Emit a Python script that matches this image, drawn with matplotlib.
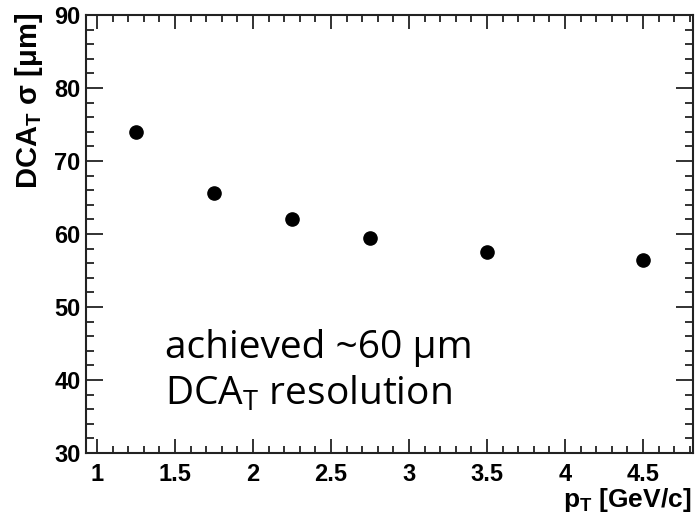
import numpy as np
import matplotlib
matplotlib.use("Agg")
import matplotlib.pyplot as plt
from matplotlib.ticker import MultipleLocator

# values
pt = [1.25, 1.75, 2.25, 2.75, 3.5, 4.5]
sigma = [74.0, 65.6, 62.1, 59.4, 57.6, 56.4]
x_ticks = [1, 1.5, 2, 2.5, 3, 3.5, 4, 4.5]
x_tick_labels = ["1", "1.5", "2", "2.5", "3", "3.5", "4", "4.5"]
y_ticks = [30, 40, 50, 60, 70, 80, 90]

plt.rcParams['font.family'] = ['Liberation Sans', 'DejaVu Sans']
plt.rcParams['mathtext.fontset'] = 'custom'
plt.rcParams['mathtext.rm'] = 'Liberation Sans'
plt.rcParams['mathtext.bf'] = 'Liberation Sans:bold'
plt.rcParams['mathtext.it'] = 'Liberation Sans:italic'

fig = plt.figure(figsize=(6.96, 5.19), dpi=100)
ax = fig.add_axes([86 / 696, 1 - 453 / 519, 607 / 696, 438 / 519])

ax.plot(pt, sigma, 'o', color='black', markersize=9.5)

ax.set_xlim(0.93, 4.82)
ax.set_ylim(30, 90)
ax.set_xticks(x_ticks)
ax.set_xticklabels(x_tick_labels)
ax.set_yticks(y_ticks)
ax.xaxis.set_minor_locator(MultipleLocator(0.1))
ax.yaxis.set_minor_locator(MultipleLocator(2))

ax.tick_params(which='both', direction='in', top=True, right=True, color='#222222', width=1.3)
ax.tick_params(axis='x', which='major', length=10, pad=7, labelsize=17)
ax.tick_params(axis='x', which='minor', length=5)
ax.tick_params(axis='y', which='major', length=12, pad=4, labelsize=17)
ax.tick_params(axis='y', which='minor', length=6)
for lab in ax.get_xticklabels() + ax.get_yticklabels():
    lab.set_fontweight('bold')
for s in ax.spines.values():
    s.set_linewidth(1.5)
    s.set_color('#222222')

fig.text(29 / 696, 1 - 13 / 519, r'$\mathbf{DCA_T}$ $\mathbf{\sigma}$ $\mathbf{[\mu m]}$',
         rotation=90, ha='center', va='top', fontsize=21, fontweight='bold')
fig.text(691 / 696, 1 - 507 / 519, r'$\mathbf{p_T}$ [GeV/c]',
         ha='right', va='baseline', fontsize=19, fontweight='bold')

note_font = ['Open Sans', 'DejaVu Sans']
ax.text(1.436, 43.0, "achieved ~60 μm", fontsize=28, family=note_font,
        ha='left', va='baseline')
ax.text(1.436, 36.6, r"DCA$\mathregular{_T}$ resolution", fontsize=28, family=note_font,
        ha='left', va='baseline')

fig.savefig('out.png', dpi=100)
